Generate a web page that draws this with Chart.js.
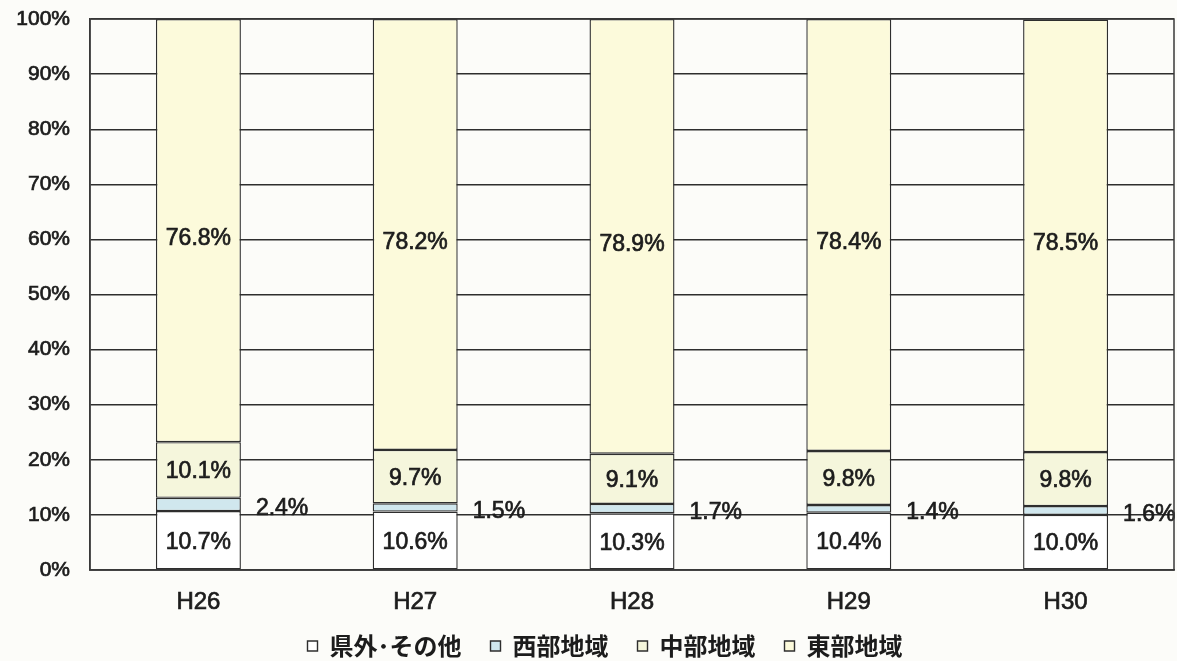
<!DOCTYPE html>
<html><head><meta charset="utf-8">
<script src="https://cdn.jsdelivr.net/npm/chart.js@4/dist/chart.umd.min.js"></script>
<style>html,body{margin:0;padding:0;background:#fcfcf9;}#wrap{width:1177px;height:661px;}</style>
</head><body><div id="wrap"><canvas id="c" width="1177" height="661"></canvas></div>
<script>
const categories = ['H26','H27','H28','H29','H30'];
const seriesNames = ['県外･その他','西部地域','中部地域','東部地域'];
const outsideVals = [10.7, 10.6, 10.3, 10.4, 10.0];
const westVals = [2.4, 1.5, 1.7, 1.4, 1.6];
const centralVals = [10.1, 9.7, 9.1, 9.8, 9.8];
const eastVals = [76.8, 78.2, 78.9, 78.4, 78.5];
const yTickValues = [0,10,20,30,40,50,60,70,80,90,100];

const seriesColors = ['#ffffff', '#d0e7ee', '#f5f6dc', '#fcfadb'];
const numFont = '"Liberation Sans", Arial, sans-serif';
const inkColor = '#1c1c1c';

const valueLabels = {
  id: 'valueLabels',
  afterDatasetsDraw(chart) {
    const ctx = chart.ctx;
    ctx.save();
    ctx.font = '23px ' + numFont;
    ctx.fillStyle = inkColor;
    ctx.strokeStyle = inkColor;
    ctx.lineWidth = 0.7;
    ctx.textBaseline = 'middle';
    chart.data.datasets.forEach((ds, di) => {
      const meta = chart.getDatasetMeta(di);
      meta.data.forEach((bar, i) => {
        const txt = ds.data[i].toFixed(1) + '%';
        const cy = (bar.y + bar.base) / 2;
        let x, y;
        if (di === 1) {
          ctx.textAlign = 'left';
          x = bar.x + bar.width / 2 + 15; y = cy + 4;
        } else {
          ctx.textAlign = 'center';
          x = bar.x; y = cy + (di === 3 ? 8 : 2);
        }
        ctx.fillText(txt, x, y);
        ctx.strokeText(txt, x, y);
      });
    });
    ctx.restore();
  }
};

const frame = {
  id: 'frame',
  afterDatasetsDraw(chart) {
    const a = chart.chartArea, ctx = chart.ctx;
    ctx.save();
    ctx.strokeStyle = '#3a3a3a';
    ctx.lineWidth = 1.5;
    ctx.strokeRect(a.left, a.top, a.right - a.left, a.bottom - a.top);
    ctx.restore();
  }
};

const legendPlace = {
  id: 'legendPlace',
  afterLayout(chart) {
    const L = chart.legend;
    if (!L) return;
    const h = L.bottom - L.top;
    L.top = 605; L.bottom = L.top + h;
    L.left += 18; L.right += 18;
  }
};

const datasets = [outsideVals, westVals, centralVals, eastVals].map((vals, k) => ({
  label: seriesNames[k],
  data: vals,
  backgroundColor: seriesColors[k],
  borderColor: '#2e2e2e',
  borderWidth: 1.4,
  borderSkipped: false,
  categoryPercentage: 1.0,
  barPercentage: 0.392
}));

new Chart(document.getElementById('c'), {
  type: 'bar',
  data: { labels: categories, datasets },
  options: {
    responsive: false,
    animation: false,
    devicePixelRatio: 1,
    layout: { padding: { top: 19, right: 3, left: 0, bottom: -25 } },
    plugins: {
      tooltip: { enabled: false },
      legend: {
        position: 'bottom',
        labels: {
          boxWidth: 10, boxHeight: 10, padding: 29,
          color: inkColor,
          font: { size: 24, family: '"Noto Sans CJK JP", sans-serif', weight: 'bold' }
        }
      }
    },
    scales: {
      x: {
        stacked: true,
        grid: { display: false },
        border: { color: '#3a3a3a', width: 1.5 },
        ticks: { color: inkColor, padding: 10, textStrokeColor: inkColor, textStrokeWidth: 0.7, font: { size: 24, family: numFont } },
        afterFit(s) { s.height = 53; }
      },
      y: {
        stacked: true,
        min: 0, max: 100,
        afterBuildTicks(s) { s.ticks = yTickValues.map(v => ({ value: v })); },
        grid: { color: '#2e2e2e', lineWidth: 1.4, drawTicks: false },
        border: { color: '#3a3a3a', width: 1.5 },
        ticks: { color: inkColor, padding: 20, textStrokeColor: inkColor, textStrokeWidth: 0.7, font: { size: 21, family: numFont }, callback: v => v + '%' },
        afterFit(s) { s.width = 90; s.paddingTop = 0; s.paddingBottom = 0; }
      }
    }
  },
  plugins: [valueLabels, frame, legendPlace]
});
</script></body></html>
